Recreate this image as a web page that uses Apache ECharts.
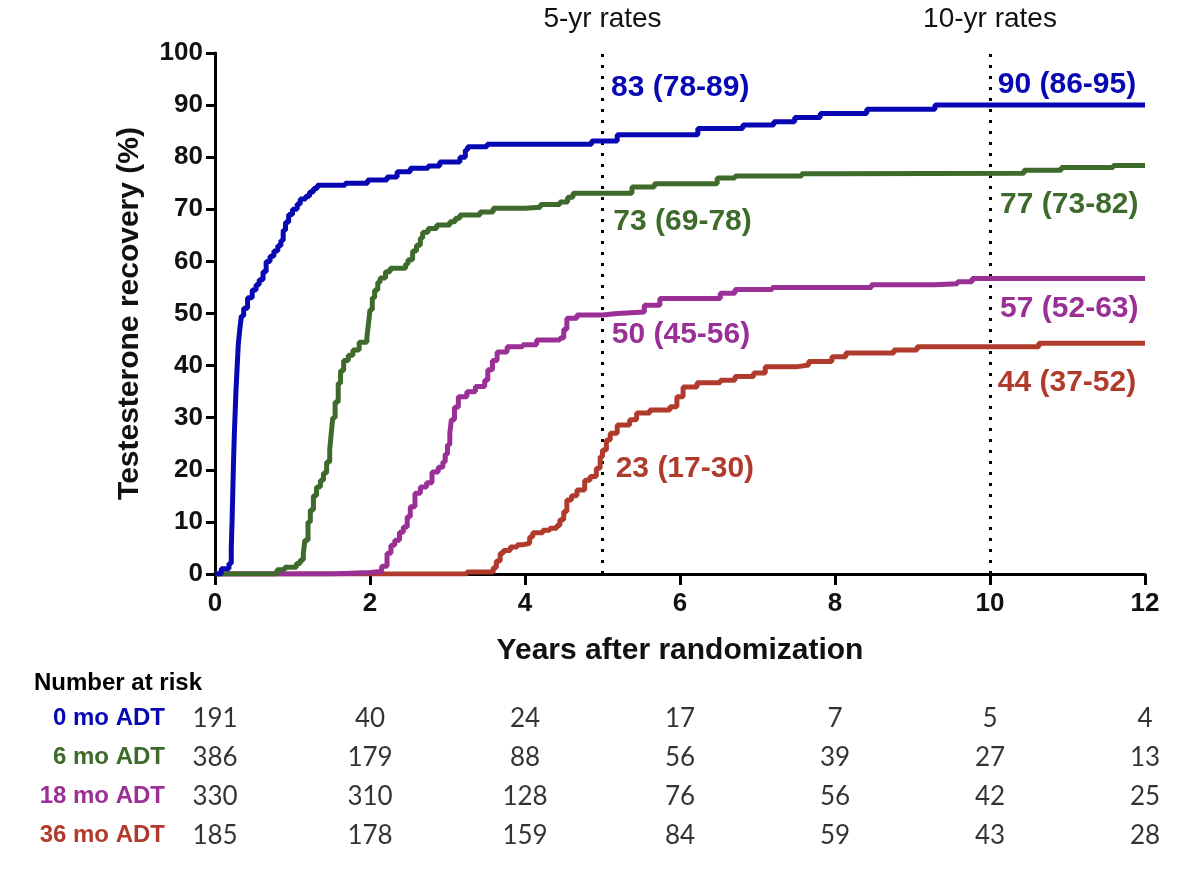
<!DOCTYPE html>
<html>
<head>
<meta charset="utf-8">
<script src="https://cdn.jsdelivr.net/npm/echarts@6/dist/echarts.min.js"></script>
<style>
html,body{margin:0;padding:0;background:#fff;}
#chart{width:1192px;height:876px;}
</style>
</head>
<body>
<div id="chart"></div>
<script>
// ---- Data ----
const groups = ['0 mo ADT', '6 mo ADT', '18 mo ADT', '36 mo ADT'];
const colors = ['#0707b4', '#3e6b2b', '#9a2f96', '#b03b2d'];

const adt0 = [[0,0],[0.08,1],[0.18,2],[0.21,5],[0.22,10],[0.23,16],[0.24,22],[0.25,27],[0.26,31],[0.27,35],[0.28,38],[0.29,41],[0.30,44],[0.32,47],[0.34,49.5],[0.37,51],[0.42,53],[0.48,54.5],[0.53,55.5],[0.57,56.5],[0.62,58],[0.66,60],[0.71,61],[0.76,62],[0.81,63],[0.85,64],[0.88,66],[0.91,67.5],[0.95,69],[1.0,70],[1.06,71],[1.1,72],[1.17,72.5],[1.22,73.3],[1.27,74],[1.32,74.6],[1.68,75.0],[1.97,75.6],[2.22,76.2],[2.35,77.2],[2.52,77.9],[2.75,78.3],[2.9,79.1],[3.16,80],[3.23,81.4],[3.26,82],[3.51,82.5],[4.86,83.1],[5.19,84.3],[6.23,85.5],[6.81,86.2],[7.21,86.8],[7.48,87.6],[7.81,88.4],[8.41,89.2],[9.29,90.0],[12,90.0]];

const adt6 = [[0,0],[0.8,0.8],[0.9,1.3],[1.05,2],[1.1,2.7],[1.14,4],[1.16,6.5],[1.2,10],[1.23,12.3],[1.27,15],[1.31,16.7],[1.36,18],[1.4,19.4],[1.44,21.5],[1.48,23.8],[1.5,27],[1.52,30],[1.55,33],[1.59,36.6],[1.62,39],[1.66,41],[1.72,42],[1.78,43],[1.86,44.5],[1.96,45.5],[1.98,48],[2.0,50.7],[2.03,53],[2.06,54.5],[2.1,56],[2.13,56.8],[2.2,58],[2.26,58.7],[2.46,59.5],[2.49,60.3],[2.55,62],[2.6,63.1],[2.65,64.5],[2.68,65.6],[2.75,66.3],[2.86,67],[3.03,67.6],[3.1,68.3],[3.16,68.9],[3.42,69.5],[3.59,70.2],[4.0,70.4],[4.2,70.9],[4.45,71.4],[4.55,72.3],[4.62,73.1],[5.38,74.3],[5.67,74.9],[6.48,76.0],[6.71,76.4],[7.57,76.8],[7.96,76.9],[10.44,77.5],[10.92,78],[11.59,78.4],[12,78.4]];

const adt18 = [[0,0],[1.5,0.3],[2.0,0.5],[2.15,1.5],[2.22,4],[2.27,5.5],[2.32,6.5],[2.38,8],[2.43,9],[2.48,11],[2.52,12.9],[2.58,15.5],[2.65,16.7],[2.73,17.5],[2.8,19.6],[2.88,20.5],[2.94,21.5],[2.97,23],[3.0,24.8],[3.03,27],[3.05,29.6],[3.09,32],[3.14,34],[3.25,35],[3.36,36],[3.48,37.2],[3.52,39.2],[3.58,41],[3.64,42.6],[3.77,43.6],[3.97,44],[4.15,44.9],[4.45,45.3],[4.5,47],[4.54,49.1],[4.67,49.7],[5.0,50.0],[5.19,50.3],[5.54,51.6],[5.74,52.9],[6.52,53.9],[6.71,54.6],[7.19,55.0],[8.47,55.5],[9.29,55.7],[9.58,56.1],[9.77,56.7],[12,56.7]];

const adt36 = [[0,0],[3.25,0.4],[3.59,1.2],[3.63,2.5],[3.68,4],[3.72,4.5],[3.81,5.2],[3.9,5.6],[3.97,5.9],[4.06,7.1],[4.1,7.9],[4.23,8.4],[4.32,8.8],[4.41,9.3],[4.45,10.4],[4.5,12],[4.54,14.2],[4.6,15],[4.67,16.1],[4.77,18],[4.84,18.7],[4.92,20.3],[4.97,22.5],[5.0,23.8],[5.05,25.7],[5.1,27],[5.19,28.6],[5.35,29.6],[5.44,30.9],[5.61,31.5],[5.87,32.1],[5.96,34],[6.04,35.9],[6.22,36.7],[6.52,37.2],[6.71,37.9],[6.95,38.6],[7.1,39.8],[7.52,40.1],[7.66,40.8],[7.96,41.7],[8.14,42.4],[8.76,43.0],[9.06,43.6],[10.63,44.3],[12,44.3]];

const rates5 = ['83 (78-89)', '73 (69-78)', '50 (45-56)', '23 (17-30)'];
const rates10 = ['90 (86-95)', '77 (73-82)', '57 (52-63)', '44 (37-52)'];
const riskYears = [0, 2, 4, 6, 8, 10, 12];
const risk0 = [191, 40, 24, 17, 7, 5, 4];
const risk6 = [386, 179, 88, 56, 39, 27, 13];
const risk18 = [330, 310, 128, 76, 56, 42, 25];
const risk36 = [185, 178, 159, 84, 59, 43, 28];
const markYears = [5, 10];
const markNames = ['5-yr rates', '10-yr rates'];

// ---- Layout / style (kept separate from data) ----
const FONT = '"Liberation Sans", Arial, sans-serif';
const label5Pos = [[5.11, 93.3], [5.14, 67.6], [5.12, 45.9], [5.17, 20.3]];
const label10Pos = [[10.10, 94.0], [10.13, 70.8], [10.13, 50.9], [10.10, 36.7]];

const curves = [adt0, adt6, adt18, adt36];
const risks = [risk0, risk6, risk18, risk36];

const series = [];
// draw order: 36 mo first (bottom) ... 0 mo last (top)
for (let k = 3; k >= 0; k--) {
  const s = {
    name: groups[k],
    type: 'line',
    step: 'end',
    xAxisIndex: 0, yAxisIndex: 0,
    data: curves[k],
    symbol: 'none',
    lineStyle: {color: colors[k], width: 5},
    itemStyle: {color: colors[k]},
    z: 10 - k,
    markPoint: {
      symbol: 'circle', symbolSize: 0, silent: true,
      label: {show: true, position: 'inside', align: 'left', verticalAlign: 'middle',
        formatter: '{b}', fontSize: 30, fontWeight: 'bold', fontFamily: FONT, color: colors[k]},
      data: [
        {name: rates5[k], coord: label5Pos[k]},
        {name: rates10[k], coord: label10Pos[k]}
      ]
    }
  };
  if (k === 3) {
    s.markLine = {
      silent: true, symbol: ['none', 'none'],
      lineStyle: {color: '#000', type: [3, 8], width: 3},
      label: {show: true, position: 'end', formatter: '{b}', fontSize: 28, color: '#111', fontFamily: FONT, distance: 20},
      data: markYears.map((y, i) => [{coord: [y, 0], name: markNames[i]}, {coord: [y, 100]}])
    };
  }
  series.push(s);
}

// Number-at-risk table, laid out through its own grid/axes
const riskData = [];
risks.forEach((arr, g) => arr.forEach((n, i) => riskData.push([riskYears[i], groups[g], n])));
series.push({
  type: 'scatter', xAxisIndex: 1, yAxisIndex: 1,
  data: riskData, symbolSize: 1, silent: true,
  itemStyle: {color: 'rgba(0,0,0,0)'},
  label: {show: true, position: 'inside', formatter: p => String(p.value[2]),
    fontSize: 26, fontFamily: 'Lato, "Open Sans", sans-serif', color: '#000'}
});

const rich = {};
groups.forEach((g, i) => { rich['g' + i] = {color: colors[i], fontSize: 24, fontWeight: 'bold', fontFamily: FONT}; });

const option = {
  animation: false,
  backgroundColor: '#fff',
  title: {text: 'Number at risk', left: 29, top: 666,
    textStyle: {fontSize: 24, fontWeight: 'bold', fontFamily: FONT, color: '#000'}},
  grid: [
    {left: 215, top: 53, width: 930, height: 521},
    {left: 215, top: 699, width: 930, height: 156}
  ],
  xAxis: [
    {type: 'value', gridIndex: 0, min: 0, max: 12, interval: 2,
      axisLine: {lineStyle: {color: '#000', width: 3}},
      axisTick: {length: 11, lineStyle: {color: '#000', width: 3}},
      splitLine: {show: false},
      axisLabel: {fontSize: 26, fontWeight: 'bold', color: '#111', fontFamily: FONT, margin: 17},
      name: 'Years after randomization', nameLocation: 'middle', nameGap: 62,
      nameTextStyle: {fontSize: 30, fontWeight: 'bold', color: '#111', fontFamily: FONT}},
    {type: 'value', gridIndex: 1, min: 0, max: 12, show: false}
  ],
  yAxis: [
    {type: 'value', gridIndex: 0, min: 0, max: 100, interval: 10,
      axisLine: {show: true, lineStyle: {color: '#000', width: 3}},
      axisTick: {show: true, length: 9, lineStyle: {color: '#000', width: 3}},
      splitLine: {show: false},
      axisLabel: {fontSize: 26, fontWeight: 'bold', color: '#111', fontFamily: FONT, margin: 12},
      name: 'Testesterone recovery (%)', nameLocation: 'middle', nameGap: 70,
      nameTextStyle: {fontSize: 30, fontWeight: 'bold', color: '#111', fontFamily: FONT}},
    {type: 'category', gridIndex: 1, data: groups, inverse: true,
      axisLine: {show: false}, axisTick: {show: false}, splitLine: {show: false},
      axisLabel: {margin: 50, formatter: (v, i) => '{g' + i + '|' + v + '}', rich: rich}}
  ],
  series: series
};

const chart = echarts.init(document.getElementById('chart'), null, {renderer: 'canvas'});
chart.setOption(option);
</script>
</body>
</html>
